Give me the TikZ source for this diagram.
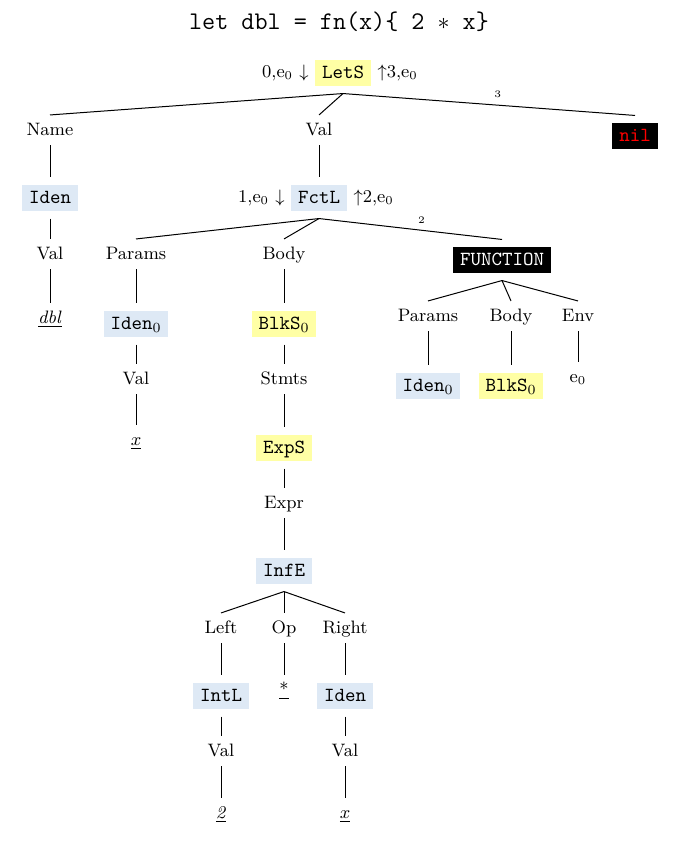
\documentclass[tikz,border=0pt]{standalone}
\usepackage{tikz}
\usetikzlibrary{positioning}
\definecolor{idblue}{RGB}{222,233,245}
\definecolor{stmyellow}{RGB}{255,255,165}
\tikzset{every picture/.style={line width=0.5pt}}
\tikzset{
  lbl/.style={inner sep=3.5pt,text height=1.5ex,text depth=.25ex,font=\small},
  boxnode/.style={inner xsep=3.5pt,inner ysep=2.5pt,outer sep=4pt,text height=1.5ex,text depth=.25ex,font=\normalsize\ttfamily},
  expbox/.style={boxnode,fill=idblue},
  stmbox/.style={boxnode,fill=stmyellow},
  valbox/.style={boxnode,fill=black},
  ann/.style={inner sep=1pt,font=\small}
}

\begin{document}
\begin{tikzpicture}[x=0.5pt,y=0.5pt,yscale=-1,xscale=1]
\useasboundingbox (0,0) rectangle (678,845);

%Title
\node[font=\fontsize{12.7}{15}\selectfont\ttfamily] (title) at (339,22) {let dbl = fn(x)\{ 2 $\ast$ x\}};

%Root
\node[stmbox] (lets) at (343,73) {LetS};
\node[ann,left=-2pt of lets] (letsIn) {0,e$_0$ $\downarrow$};
\node[ann,right=-2pt of lets] (letsOut) {$\uparrow$3,e$_0$};
\node[lbl] (name) at (50,130) {Name};
\node[lbl] (val1) at (319,130) {Val};
\node[valbox,text=red] (nil) at (635,136) {nil};

%Name branch
\node[expbox] (iden1) at (50,198) {Iden};
\node[lbl] (val2) at (50,254) {Val};
\node[lbl] (dbl) at (50,318) {\underline{\textit{dbl}}};

%Function literal
\node[expbox] (fctl) at (319,198) {FctL};
\node[ann,left=-2pt of fctl] (fctlIn) {1,e$_0$ $\downarrow$};
\node[ann,right=-2pt of fctl] (fctlOut) {$\uparrow$2,e$_0$};
\node[lbl] (params1) at (136,254) {Params};
\node[lbl] (body1) at (284,254) {Body};
\node[valbox,text=white] (function) at (502,260) {FUNCTION};

%Params branch
\node[expbox] (iden2) at (136,324) {Iden$_0$};
\node[lbl] (val3) at (136,379) {Val};
\node[lbl] (x1) at (136,440) {$\underline{x}$};

%Body branch
\node[stmbox] (blks1) at (284,324) {BlkS$_0$};
\node[lbl] (stmts) at (284,379) {Stmts};
\node[stmbox] (exps) at (284,448) {ExpS};
\node[lbl] (expr) at (284,503) {Expr};
\node[expbox] (infe) at (284,571) {InfE};
\node[lbl] (left) at (221,628) {Left};
\node[lbl] (op) at (284,628) {Op};
\node[lbl] (right) at (345,628) {Right};
\node[expbox] (intl) at (221,696) {IntL};
\node[lbl] (star) at (284,690) {\underline{*}};
\node[expbox] (iden3) at (345,696) {Iden};
\node[lbl] (val4) at (221,751) {Val};
\node[lbl] (two) at (221,813) {\underline{\textit{2}}};
\node[lbl] (val5) at (345,751) {Val};
\node[lbl] (x2) at (345,813) {$\underline{x}$};

%Closure value
\node[lbl] (params2) at (428,316) {Params};
\node[lbl] (body2) at (511,316) {Body};
\node[lbl] (env) at (578,316) {Env};
\node[expbox] (iden4) at (428,386) {Iden$_0$};
\node[stmbox] (blks2) at (511,386) {BlkS$_0$};
\node[lbl] (e0) at (578,377) {e$_0$};

%Edges
\draw (lets.south) -- (name.north);
\draw (lets.south) -- (val1.north);
\draw (lets.south) -- node[pos=0.53,above,font=\tiny] {3} (nil.north);
\draw (fctl.south) -- (params1.north);
\draw (fctl.south) -- (body1.north);
\draw (fctl.south) -- node[pos=0.56,above,font=\tiny] {2} (function.north);
\foreach \a/\b in {name/iden1,iden1/val2,val2/dbl,val1/fctl,
  params1/iden2,iden2/val3,val3/x1,
  body1/blks1,blks1/stmts,stmts/exps,exps/expr,expr/infe,
  infe/left,infe/op,infe/right,
  left/intl,intl/val4,val4/two,op/star,right/iden3,iden3/val5,val5/x2,
  function/params2,function/body2,function/env,
  params2/iden4,body2/blks2,env/e0}
  \draw (\a.south) -- (\b.north);

\end{tikzpicture}
\end{document}
